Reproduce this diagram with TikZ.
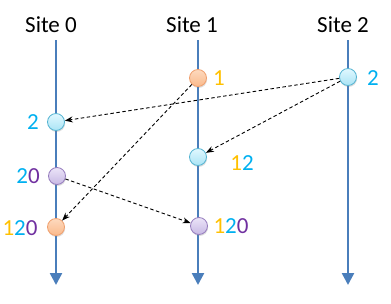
\documentclass[tikz,border=0pt]{standalone}
\usepackage{fontspec}
\setmainfont{Carlito}
\usetikzlibrary{arrows.meta, shadows}
\definecolor{axisblue}{RGB}{74, 126, 187}
\definecolor{numorange}{RGB}{255, 192, 0}
\definecolor{numcyan}{RGB}{0, 176, 240}
\definecolor{numpurple}{RGB}{112, 48, 160}
\newcommand{\numO}[1]{\textcolor{numorange}{#1}}
\newcommand{\numC}[1]{\textcolor{numcyan}{#1}}
\newcommand{\numP}[1]{\textcolor{numpurple}{#1}}

\begin{document}
\begin{tikzpicture}[x=1pt, y=-1pt,
  site/.style={font=\fontsize{23}{27}\selectfont, inner sep=0pt},
  num/.style={font=\fontsize{23}{27}\selectfont, inner sep=0pt},
  axis/.style={draw=axisblue, line width=2.5pt, -{Triangle[width=12pt, length=12pt]}},
  ev/.style={circle, minimum size=17pt, inner sep=0pt, line width=0.8pt,
    drop shadow={opacity=0.25, shadow xshift=0.6pt, shadow yshift=-1.5pt}},
  evorange/.style={ev, draw={rgb,255:red,240;green,160;blue,110}, top color={rgb,255:red,253;green,218;blue,190}, bottom color={rgb,255:red,250;green,185;blue,140}},
  evcyan/.style={ev, draw={rgb,255:red,85;green,180;blue,210}, top color={rgb,255:red,225;green,248;blue,255}, bottom color={rgb,255:red,170;green,228;blue,245}},
  evpurple/.style={ev, draw={rgb,255:red,150;green,125;blue,190}, top color={rgb,255:red,235;green,228;blue,248}, bottom color={rgb,255:red,200;green,185;blue,228}},
  msg/.style={-{Stealth[length=8pt, width=6pt]}, line width=0.9pt, dash pattern=on 3.5pt off 2.5pt}
]
  \useasboundingbox (0,0) rectangle (391,303);

  % sites and timelines
  \node[site] (s0) at (51,25) {Site 0};
  \node[site] (s1) at (192,25) {Site 1};
  \node[site] (s2) at (343,25) {Site 2};
  \coordinate (t0) at (56,40);  \coordinate (b0) at (56,285);
  \coordinate (t1) at (198,40); \coordinate (b1) at (198,285);
  \coordinate (t2) at (348,40); \coordinate (b2) at (348,285);
  \draw[axis] (t0) -- (b0);
  \draw[axis] (t1) -- (b1);
  \draw[axis] (t2) -- (b2);

  % events
  \node[evcyan] (e0a) at (56,122) {};
  \node[evpurple] (e0b) at (57,176) {};
  \node[evorange] (e0c) at (56,227) {};
  \node[evorange] (e1a) at (198,78) {};
  \node[evcyan] (e1b) at (198,157) {};
  \node[evpurple] (e1c) at (199,226) {};
  \node[evcyan] (e2a) at (348,77) {};

  % labels
  \node[num] (l0a) at (33,122) {\numC{2}};
  \node[num] (l0b) at (28,176) {\numC{2}\numP{0}};
  \node[num] (l0c) at (20,228) {\numO{1}\numC{2}\numP{0}};
  \node[num] (l1a) at (219,78) {\numO{1}};
  \node[num] (l1b) at (242,163) {\numO{1}\numC{2}};
  \node[num] (l1c) at (231,226) {\numO{1}\numC{2}\numP{0}};
  \node[num] (l2a) at (373,78) {\numC{2}};

  % messages
  \draw[msg] (e2a) -- (e0a);
  \draw[msg] (e2a) -- (e1b);
  \draw[msg] (e1a) -- (e0c);
  \draw[msg] (e0b) -- (e1c);
\end{tikzpicture}
\end{document}
